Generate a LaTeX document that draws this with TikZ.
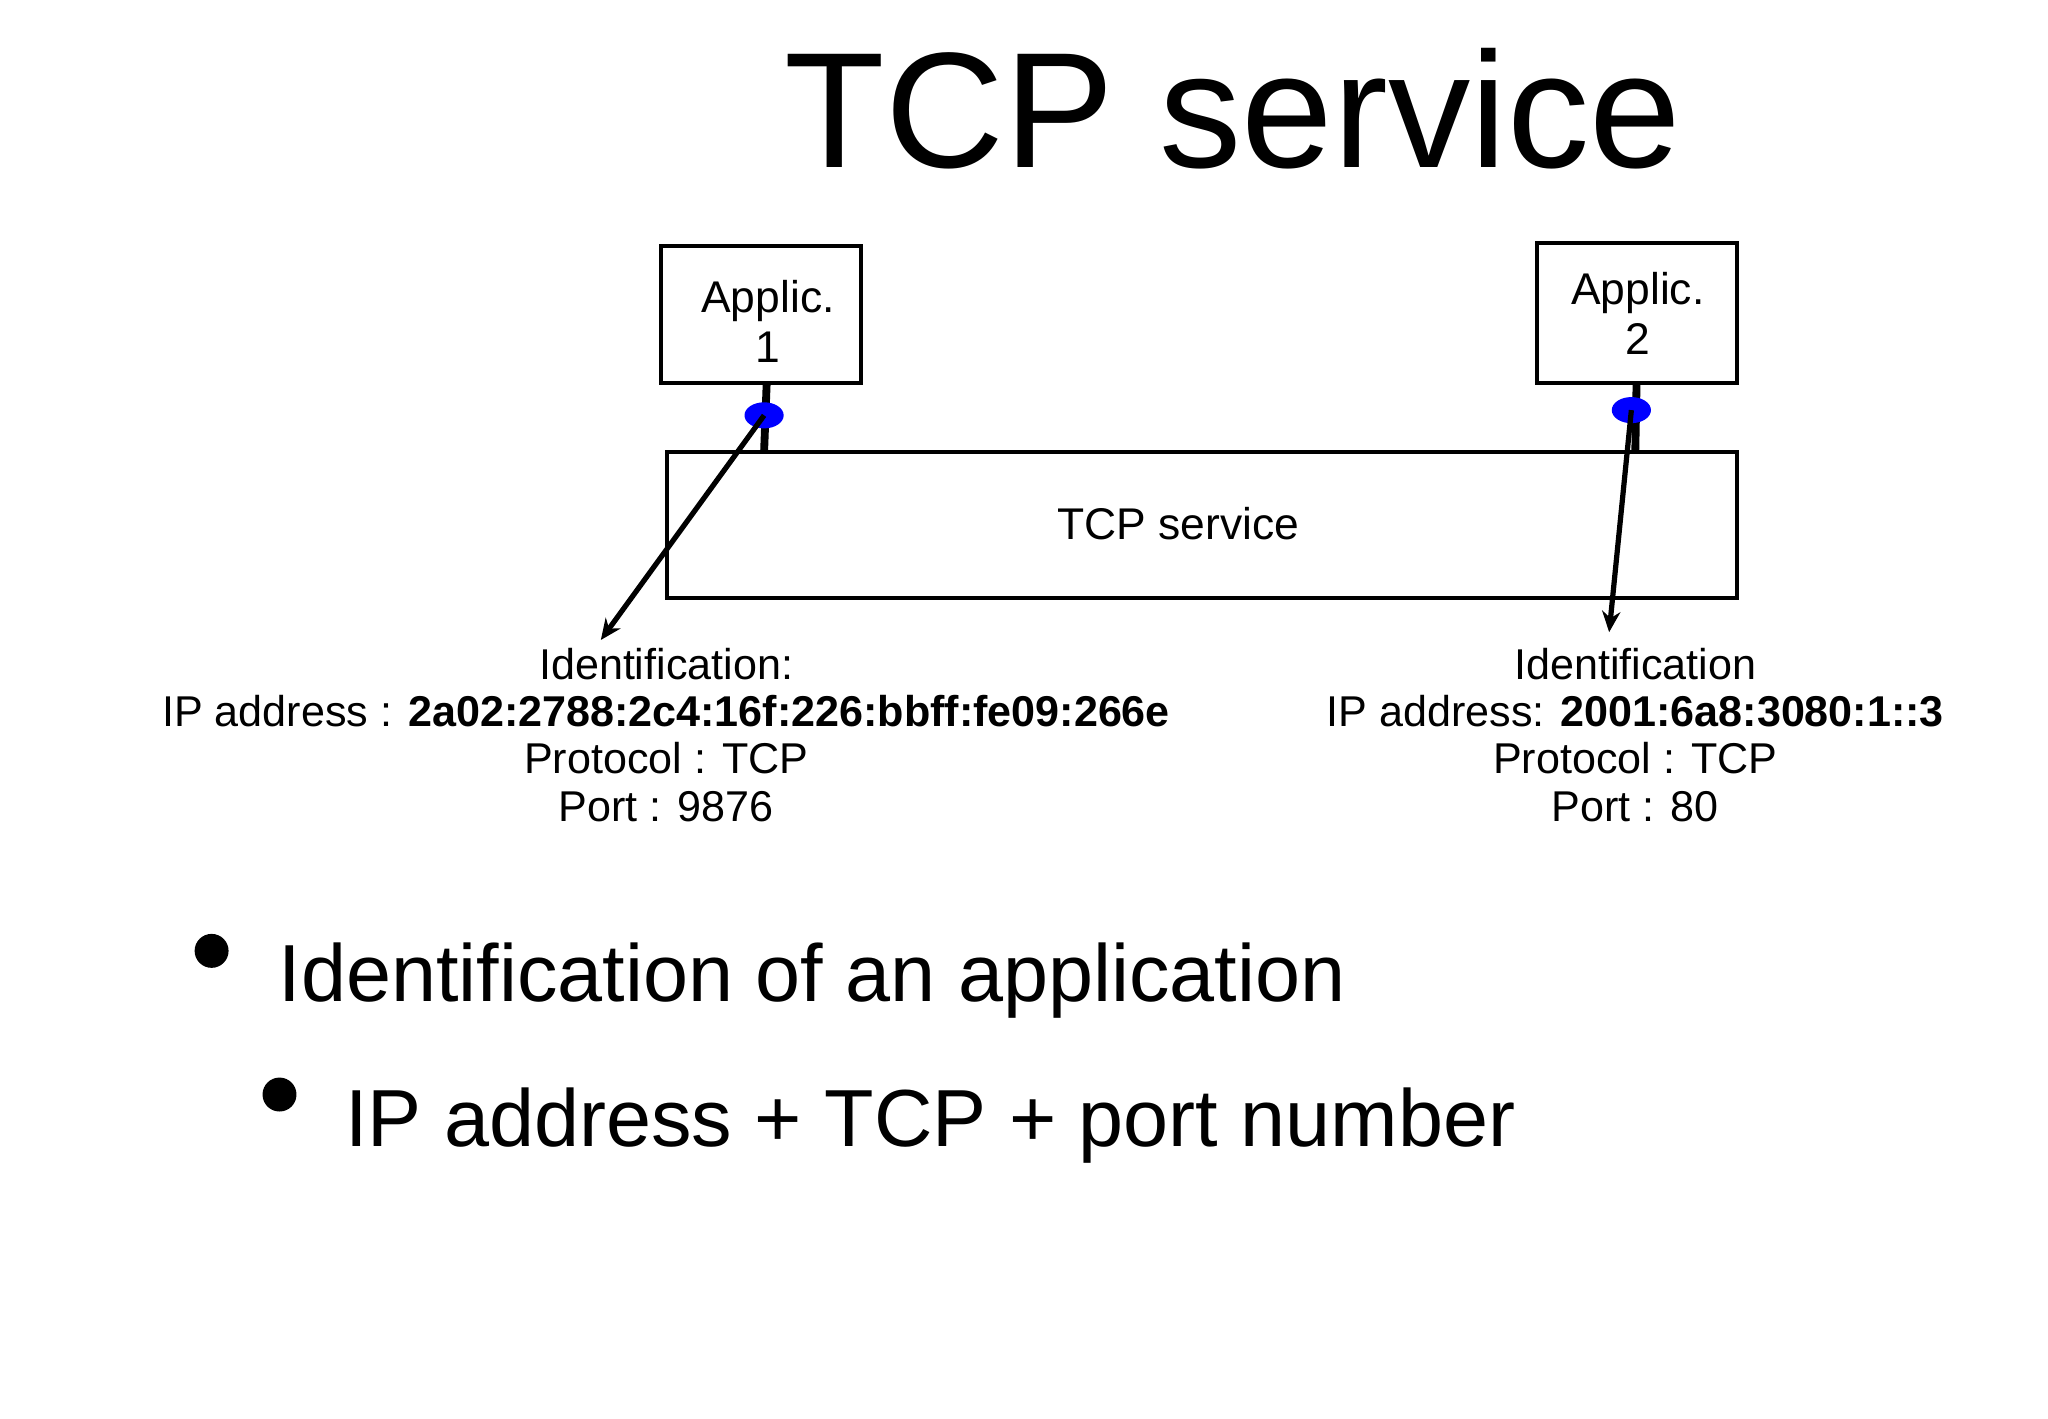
\documentclass[tikz,border=0pt]{standalone}
\usepackage{fontspec}
\setmainfont{Liberation Sans}
\usetikzlibrary{shapes.geometric,arrows.meta}
\begin{document}
\begin{tikzpicture}[x=0.5pt,y=-0.5pt,
  box/.style={draw,line width=1.5pt,inner sep=0pt},
  lbl/.style={font=\fontsize{17}{19}\selectfont,align=center,inner sep=0pt},
  idt/.style={font=\fontsize{16.5}{18}\selectfont,align=center,inner sep=0pt,anchor=base},
  dot/.style={ellipse,fill=blue,minimum width=15pt,minimum height=10pt,inner sep=0pt},
  arr/.style={line width=2pt,-{Stealth[length=8pt,width=7pt]}},
  thick2/.style={line width=3pt}]
\useasboundingbox (0,0) rectangle (1568,1086);
\node[anchor=base,inner sep=0pt,font=\fontsize{63}{70}\selectfont] (title) at (944,128) {TCP service};
\draw[box] (506,188) rectangle (659,293);
\node[lbl] (a1) at (588,246) {Applic.\\1};
\draw[box] (1177,186) rectangle (1330,293);
\node[lbl] (a2) at (1254,240) {Applic.\\2};
\draw[box] (511,346) rectangle (1330,458);
\node[lbl] (tcp) at (902,401) {TCP service};
\coordinate (t1) at (587,293); \coordinate (b1) at (585,346);
\coordinate (t2) at (1253,293); \coordinate (b2) at (1252,346);
\draw[thick2] (t1) -- (b1);
\draw[thick2] (t2) -- (b2);
\node[dot] (d1) at (585,318) {};
\node[dot] (d2) at (1249,314) {};
\coordinate (e1) at (460,490); \coordinate (e2) at (1232,484);
\draw[arr] (d1.center) -- (e1);
\draw[arr] (d2.center) -- (e2);
\node[idt] (l1) at (510,520) {Identification:};
\node[idt] (l2) at (510,556) {IP address : \textbf{2a02:2788:2c4:16f:226:bbff:fe09:266e}};
\node[idt] (l3) at (510,592) {Protocol : TCP};
\node[idt] (l4) at (510,629) {Port : 9876};
\node[idt] (r1) at (1252,520) {Identification};
\node[idt] (r2) at (1252,556) {IP address: \textbf{2001:6a8:3080:1::3}};
\node[idt] (r3) at (1252,592) {Protocol : TCP};
\node[idt] (r4) at (1252,629) {Port : 80};
\fill (162,728) circle (6.5pt);
\node[anchor=base west,inner sep=0pt,font=\fontsize{31}{34}\selectfont] (b1t) at (213,767) {Identification of an application};
\fill (214,838) circle (6.5pt);
\node[anchor=base west,inner sep=0pt,font=\fontsize{31}{34}\selectfont] (b2t) at (264,878) {IP address + TCP + port number};
\end{tikzpicture}
\end{document}
